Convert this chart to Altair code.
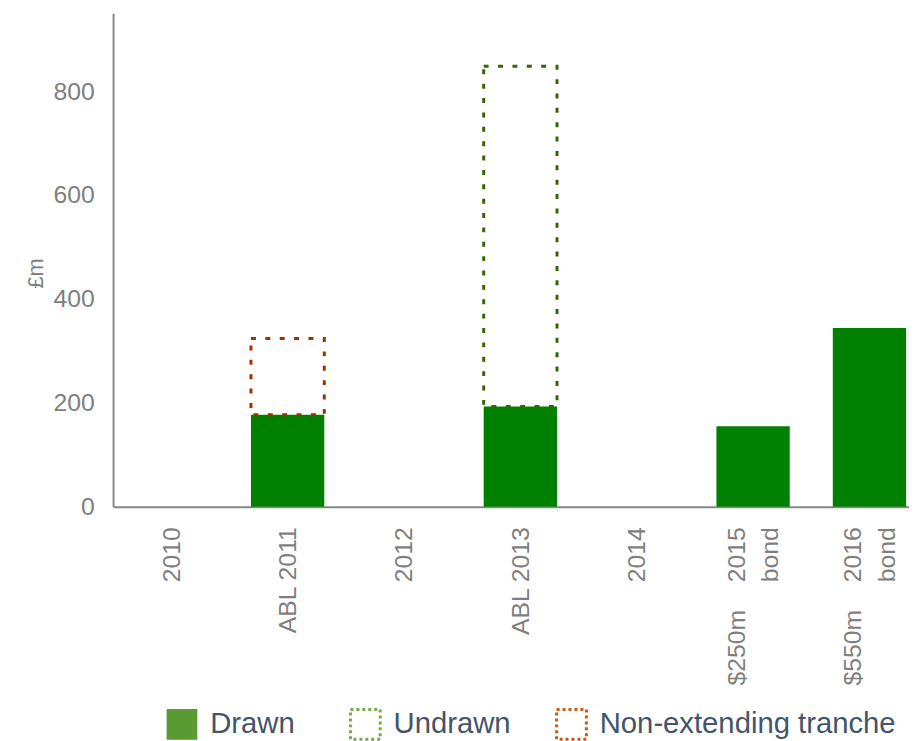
import altair as alt
import pandas as pd

# ---- data ----
categories = ["2010", "ABL 2011", "2012", "ABL 2013", "2014", "$250m 2015 bond", "$550m 2016 bond"]
NB = "\u00a0"
tick_lines = [
    ["2010"],
    ["ABL 2011"],
    ["2012"],
    ["ABL 2013"],
    ["2014"],
    ["$250m" + NB * 4 + "2015", "bond" + NB * 7],
    ["$550m" + NB * 4 + "2016", "bond" + NB * 7],
]
drawn = [None, 177, None, 193, None, 155, 344]
undrawn_lo = [None, None, None, 193, None, None, None]
undrawn_hi = [None, None, None, 848, None, None, None]
tranche_lo = [None, 177, None, None, None, None, None]
tranche_hi = [None, 324, None, None, None, None, None]
legend_names = ["Drawn", "Undrawn", "Non-extending tranche"]
y_ticks = [0, 200, 400, 600, 800]

df = pd.DataFrame({
    "pos": list(range(len(categories))),
    "cat": categories,
    "drawn": drawn,
    "ulo": undrawn_lo,
    "uhi": undrawn_hi,
    "tlo": tranche_lo,
    "thi": tranche_hi,
})

FONT = "Liberation Sans"
GREY = "#7f7f7f"
AXIS = "#868686"
HALF = 0.315  # half bar width, in category steps
STEP_PX = 117.4
LINE_H = 34


def q(s):
    return "'" + s.replace("\\", "\\\\").replace("'", "\\'") + "'"


expr = "''"
for i, lines in reversed(list(enumerate(tick_lines))):
    arr = "[" + ",".join(q(l) for l in lines) + "]"
    expr = f"datum.value == {i} ? {arr} : ({expr})"

multi = [i for i, lines in enumerate(tick_lines) if len(lines) > 1]
multi_test = " || ".join(f"datum.value == {i}" for i in multi)

x_scale = alt.Scale(domain=[-0.5, -0.5 + 803 / STEP_PX], nice=False, zero=False, padding=0)
x_axis = alt.Axis(
    values=list(range(len(categories))), title=None, labelAngle=-90, labelFontSize=25,
    labelColor=GREY, labelFont=FONT, labelPadding=20, ticks=False, grid=False,
    domainColor=AXIS, domainWidth=2, labelExpr=expr, labelLineHeight=LINE_H,
    labelLimit=400, labelFlush=False, labelOverlap=False,
    labelOffset={"condition": {"test": multi_test, "value": -LINE_H / 2}, "value": 0},
)
y_scale = alt.Scale(domain=[0, 950], nice=False, padding=0)
y_axis = alt.Axis(
    values=y_ticks, title="£m", titleFontSize=22, titleColor=GREY, titleFont=FONT,
    titleFontWeight="normal", titleX=-78, titleY=262, titleAlign="center",
    titleBaseline="middle", labelFontSize=25, labelColor=GREY, labelFont=FONT,
    labelPadding=19, ticks=False, grid=False, domainColor=AXIS, domainWidth=2,
)

base = alt.Chart(df).transform_calculate(
    x0=f"datum.pos - {HALF}", x1=f"datum.pos + {HALF}"
)

bars = base.transform_filter("isValid(datum.drawn)").mark_bar(color="#008000").encode(
    x=alt.X("x0:Q", scale=x_scale, axis=x_axis), x2="x1:Q",
    y=alt.Y("drawn:Q", scale=y_scale, axis=y_axis), y2=alt.datum(0),
)
undrawn_box = base.transform_filter("isValid(datum.ulo)").mark_bar(
    filled=False, stroke="#336600", strokeWidth=3, strokeDash=[5, 9.5]
).encode(
    x=alt.X("x0:Q", scale=x_scale), x2="x1:Q",
    y=alt.Y("ulo:Q", scale=y_scale), y2="uhi:Q",
)
tranche_box = base.transform_filter("isValid(datum.tlo)").mark_bar(
    filled=False, stroke="#993300", strokeWidth=3, strokeDash=[5, 9.5]
).encode(
    x=alt.X("x0:Q", scale=x_scale), x2="x1:Q",
    y=alt.Y("tlo:Q", scale=y_scale), y2="thi:Q",
)

leg_common = dict(
    title=None, orient="none", legendY=701, padding=0, labelOffset=12,
    labelFontSize=29.5, labelColor="#44546a", labelFont=FONT, labelLimit=0,
)

leg_drawn = base.transform_filter("false").transform_calculate(k="'Drawn'").mark_bar().encode(
    fill=alt.Fill("k:N", scale=alt.Scale(domain=[legend_names[0]], range=["#5a9a32"]),
                  legend=alt.Legend(legendX=53, symbolType="square", symbolSize=961, **leg_common))
)
leg_undrawn = base.transform_filter("false").transform_calculate(k="'Undrawn'").mark_bar(
    filled=False, strokeWidth=3, strokeDash=[3, 3]
).encode(
    stroke=alt.Stroke("k:N", scale=alt.Scale(domain=[legend_names[1]], range=["#70ad47"]),
                      legend=alt.Legend(legendX=238, symbolType="square", symbolSize=900,
                                        symbolDash=[3, 3], symbolStrokeWidth=3,
                                        symbolFillColor="transparent", **leg_common))
)
leg_tranche = base.transform_filter("false").transform_calculate(k="'Non-extending tranche'").mark_bar(
    filled=False, strokeWidth=3, strokeDash=[3, 3]
).encode(
    stroke=alt.Stroke("k:N", scale=alt.Scale(domain=[legend_names[2]], range=["#c55a11"]),
                      legend=alt.Legend(legendX=446, symbolType="square", symbolSize=900,
                                        symbolDash=[3, 3], symbolStrokeWidth=3,
                                        symbolFillColor="transparent", **leg_common))
)

chart = alt.layer(bars, undrawn_box, tranche_box, leg_drawn, leg_undrawn, leg_tranche).resolve_scale(
    stroke="independent"
).resolve_legend(stroke="independent").properties(
    width=803, height=498,
    autosize=alt.AutoSizeParams(type="none"),
    padding={"left": 106, "top": 2, "right": 0, "bottom": 233},
).configure(font=FONT).configure_view(stroke=None)

chart.save("out.html", embed_options={"renderer": "svg", "actions": False})
